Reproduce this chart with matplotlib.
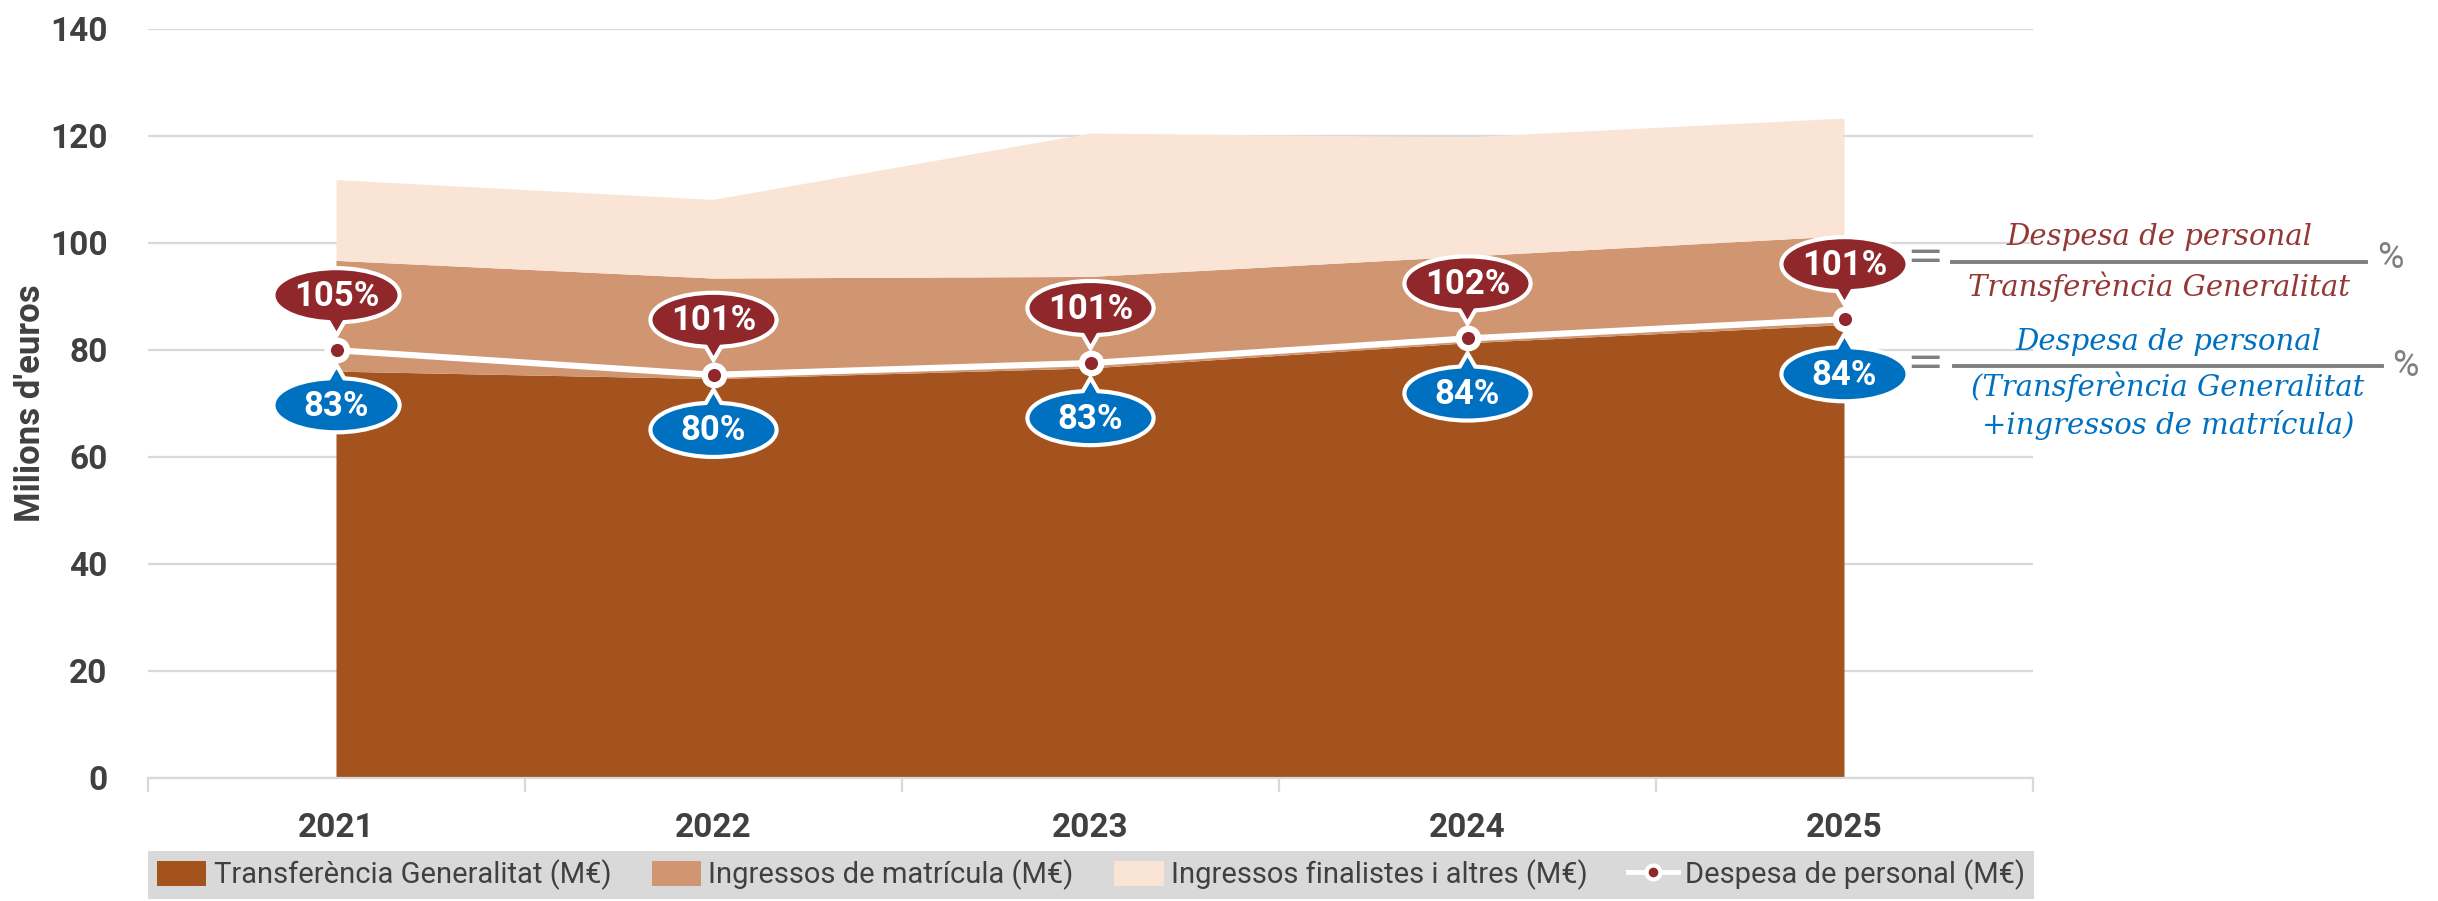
import matplotlib.pyplot as plt
import numpy as np
from matplotlib.patches import Ellipse, Polygon, Patch
from matplotlib.lines import Line2D
from matplotlib.transforms import ScaledTranslation

# dades (M€)
anys = ['2021', '2022', '2023', '2024', '2025']
transferencia = [75.9, 74.5, 76.5, 81.2, 84.6]
matricula = [20.7, 18.8, 17.1, 16.2, 16.6]
finalistes = [15.1, 14.7, 26.8, 22.3, 22.0]
despesa = [79.9, 75.3, 77.5, 82.1, 85.7]
pct_transf = ['105%', '101%', '101%', '102%', '101%']
pct_transf_mat = ['83%', '80%', '83%', '84%', '84%']
noms = ['Transferència Generalitat (M€)', 'Ingressos de matrícula (M€)',
        'Ingressos finalistes i altres (M€)', 'Despesa de personal (M€)']

W, H = 2438, 901
c_fosc = '#A4531E'
c_mig = '#D09571'
c_clar = '#F9E4D6'
c_vermell = '#8F272B'
c_blau = '#0070C0'
c_text = '#404040'
c_gris = '#D9D9D9'

def px(x, y):
    # pixel (des de dalt a l'esquerra) -> fraccio de figura
    return x / W, 1 - y / H

fig = plt.figure(figsize=(W / 100, H / 100), dpi=100)
ax = fig.add_axes([148 / W, 1 - 777.7 / H, (2033 - 148) / W, (777.7 - 28.7) / H])

x = np.arange(len(anys))
ax.stackplot(x, transferencia, matricula, finalistes,
             colors=[c_fosc, c_mig, c_clar], linewidth=0, zorder=2)
ax.plot(x, despesa, color='white', lw=4.5, marker='o', ms=14,
        mfc=c_vermell, mec='white', mew=4.5, zorder=4)

ax.set_xlim(-0.5, len(anys) - 0.5)
ax.set_ylim(0, 140)
ax.set_yticks(np.arange(0, 141, 20))
ax.grid(axis='y', color=c_gris, lw=1.6)
ax.set_axisbelow(True)
for s in ['top', 'right', 'left']:
    ax.spines[s].set_visible(False)
ax.spines['bottom'].set_color(c_gris)
ax.spines['bottom'].set_linewidth(1.6)

ax.set_xticks(x)
ax.set_xticklabels(anys)
ax.set_xticks(np.arange(-0.5, len(anys), 1), minor=True)
ax.tick_params(axis='x', which='major', length=0, pad=25)
ax.tick_params(axis='x', which='minor', length=10, width=1.6, color=c_gris)
ax.tick_params(axis='y', length=0, pad=29)
for lab in ax.get_xticklabels() + ax.get_yticklabels():
    lab.set_fontfamily('Roboto')
    lab.set_fontweight('bold')
    lab.set_fontsize(24)
    lab.set_color(c_text)

fig.text(*px(31, 403), "Milions d'euros", rotation=90, ha='center', va='center',
         fontsize=25, fontweight='bold', family='Roboto', color=c_text)

# globus amb els percentatges
for i in range(len(anys)):
    tr = fig.dpi_scale_trans + ScaledTranslation(x[i], despesa[i], ax.transData)
    for sign, col, txt in [(1, c_vermell, pct_transf[i]), (-1, c_blau, pct_transf_mat[i])]:
        cy = 0.55 * sign
        el = dict(xy=(0, cy), width=1.22, height=0.50, transform=tr, clip_on=False)
        tri = [(-0.11, cy - 0.17 * sign), (0.11, cy - 0.17 * sign), (0, 0.19 * sign)]
        ax.add_patch(Ellipse(fc='white', ec='white', lw=6, zorder=5, **el))
        ax.add_patch(Polygon(tri, closed=True, fc='white', ec='white', lw=6, zorder=5,
                             transform=tr, clip_on=False))
        ax.add_patch(Ellipse(fc=col, ec='none', zorder=6, **el))
        ax.add_patch(Polygon(tri, closed=True, fc=col, ec='none', zorder=6,
                             transform=tr, clip_on=False))
        ax.text(0, cy - 0.01, txt, transform=tr, ha='center', va='center',
                fontsize=25, fontweight='bold', family='Roboto', color='white', zorder=7)

# formules
serif = dict(family='DejaVu Serif', style='italic', fontsize=21, ha='center', va='center')
fig.text(*px(1925, 258), '=', fontsize=32, color='#7F7F7F', ha='center', va='center')
fig.add_artist(Line2D([1952 / W, 2366 / W], [1 - 262 / H] * 2, color='#7F7F7F', lw=2.8))
fig.text(*px(2159, 237), 'Despesa de personal', color='#953735', **serif)
fig.text(*px(2159, 287), 'Transferència Generalitat', color='#953735', **serif)
fig.text(*px(2390, 258), '%', fontsize=26, color='#7F7F7F', family='Roboto', ha='center', va='center')

fig.text(*px(1925, 364), '=', fontsize=32, color='#7F7F7F', ha='center', va='center')
fig.add_artist(Line2D([1954 / W, 2382 / W], [1 - 366 / H] * 2, color='#7F7F7F', lw=2.8))
fig.text(*px(2168, 342), 'Despesa de personal', color=c_blau, **serif)
fig.text(*px(2168, 387), '(Transferència Generalitat', color=c_blau, **serif)
fig.text(*px(2168, 425), '+ingressos de matrícula)', color=c_blau, **serif)
fig.text(*px(2405, 366), '%', fontsize=26, color='#7F7F7F', family='Roboto', ha='center', va='center')

# llegenda
handles = [Patch(fc=c_fosc), Patch(fc=c_mig), Patch(fc=c_clar),
           Line2D([0], [0], color='white', lw=3.5, marker='o', ms=10,
                  mfc=c_vermell, mec='white', mew=3)]
leg = fig.legend(handles, noms, loc='lower left',
                 bbox_to_anchor=(148 / W, 1 - 899 / H, (2034 - 148) / W, 50 / H),
                 mode='expand', ncol=4, frameon=True, facecolor=c_gris, edgecolor='none',
                 fancybox=False, framealpha=1, borderaxespad=0, borderpad=0.3,
                 handlelength=1.7, handleheight=0.95, handletextpad=0.25, columnspacing=0.3,
                 prop={'family': 'Roboto', 'size': 21})
for t in leg.get_texts():
    t.set_color(c_text)

fig.savefig('out.png', dpi=100)
